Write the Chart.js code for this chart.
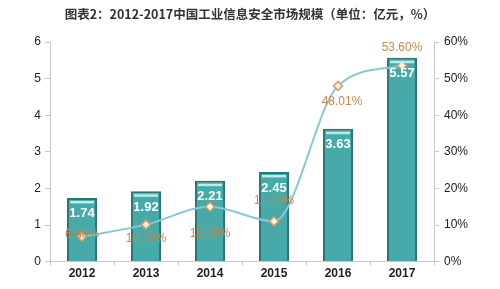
<!DOCTYPE html>
<html><head><meta charset="utf-8">
<script src="https://cdn.jsdelivr.net/npm/chart.js@4/dist/chart.umd.min.js"></script>
<style>html,body{margin:0;padding:0;background:#fff;}canvas{display:block;}</style>
</head><body>
<canvas id="c" width="500" height="289"></canvas>
<script>
const categories = ['2012','2013','2014','2015','2016','2017'];
const marketSize = [1.74, 1.92, 2.21, 2.45, 3.63, 5.57];
const growthRate = [6.80, 10.10, 15.00, 11.00, 48.01, 53.60];
const leftTicks = [0,1,2,3,4,5,6];
const rightTicks = ['0%','10%','20%','30%','40%','50%','60%'];
const titleText = '图表2：2012-2017中国工业信息安全市场规模（单位：亿元，%）';
// label placement for growth labels: offset in px relative to point (dy)
const growthLabelDy = [-2, 14, 27, -21, 16, -18];

const numFont = '"Liberation Sans", Arial, sans-serif';

const labelPlugin = {
  id: 'labels',
  afterDatasetsDraw(chart) {
    const ctx = chart.ctx;
    const bars = chart.getDatasetMeta(1).data;
    ctx.save();
    bars.forEach((b) => {
      const w = b.width;
      ctx.fillStyle = '#b9ecea';
      ctx.fillRect(b.x - w/2 + 3, b.y + 3, w - 6, 2.5);
    });
    ctx.restore();
    // redraw line points on top of highlight
  },
  afterDraw(chart) {
    const ctx = chart.ctx;
    const bars = chart.getDatasetMeta(1).data;
    const pts = chart.getDatasetMeta(0).data;
    ctx.save();
    ctx.textAlign = 'center';
    ctx.textBaseline = 'middle';
    ctx.font = 'bold 13px ' + numFont;
    ctx.fillStyle = '#ffffff';
    bars.forEach((b, i) => {
      ctx.fillText(marketSize[i].toFixed(2), b.x, b.y + 16);
    });
    ctx.font = '12px ' + numFont;
    ctx.fillStyle = '#c6864c';
    pts.forEach((p, i) => {
      ctx.fillText(growthRate[i].toFixed(2) + '%', p.x + (i===4?4:0), p.y + growthLabelDy[i]);
    });
    ctx.restore();
  }
};

new Chart(document.getElementById('c'), {
  data: {
    labels: categories,
    datasets: [
      {
        type: 'line',
        label: 'growth',
        data: growthRate,
        yAxisID: 'y1',
        borderColor: '#86c9d8',
        borderWidth: 2,
        tension: 0.4,
        cubicInterpolationMode: 'monotone',
        pointStyle: 'rectRot',
        pointRadius: 4.5,
        pointBackgroundColor: '#fff3e8',
        pointBorderColor: '#d99a60',
        pointBorderWidth: 1.5,
        order: 0
      },
      {
        type: 'bar',
        label: 'size',
        data: marketSize,
        yAxisID: 'y',
        backgroundColor: '#45aaa8',
        borderColor: '#2e7272',
        borderWidth: 2,
        barPercentage: 0.47,
        categoryPercentage: 1.0,
        order: 1
      }
    ]
  },
  options: {
    responsive: false,
    animation: false,
    layout: { padding: { left: 10, right: 10, top: 0, bottom: 7 } },
    plugins: {
      legend: { display: false },
      tooltip: { enabled: false },
      title: {
        display: true,
        text: titleText,
        color: '#333',
        font: { family: '"Noto Sans CJK SC", sans-serif', size: 12.5, weight: 'bold' },
        padding: { top: 7, bottom: 20 }
      }
    },
    scales: {
      x: {
        offset: true,
        grid: { display: true, drawOnChartArea: false, offset: true, tickLength: 4, color: '#c8c8c8' },
        border: { color: '#c8c8c8' },
        ticks: { color: '#222', font: { family: numFont, size: 12, weight: 'bold' }, padding: 1 }
      },
      y: {
        position: 'left',
        min: 0, max: 6,
        afterBuildTicks(scale) { scale.ticks = leftTicks.map(v => ({ value: v })); },
        grid: { display: true, drawOnChartArea: false, tickLength: 5, color: '#c8c8c8' },
        border: { color: '#c8c8c8' },
        ticks: { color: '#222', font: { family: numFont, size: 12 }, padding: 4 },
        afterFit(scale) { scale.width = 40; }
      },
      y1: {
        position: 'right',
        min: 0, max: 60,
        afterBuildTicks(scale) { scale.ticks = rightTicks.map((t, i) => ({ value: i * 10 })); },
        grid: { display: true, drawOnChartArea: false, tickLength: 5, color: '#c8c8c8' },
        border: { color: '#c8c8c8' },
        ticks: { color: '#222', font: { family: numFont, size: 12 }, padding: 5,
          callback: (v, i) => rightTicks[i] },
        afterFit(scale) { scale.width = 56; }
      }
    }
  },
  plugins: [labelPlugin]
});
</script>
</body></html>
